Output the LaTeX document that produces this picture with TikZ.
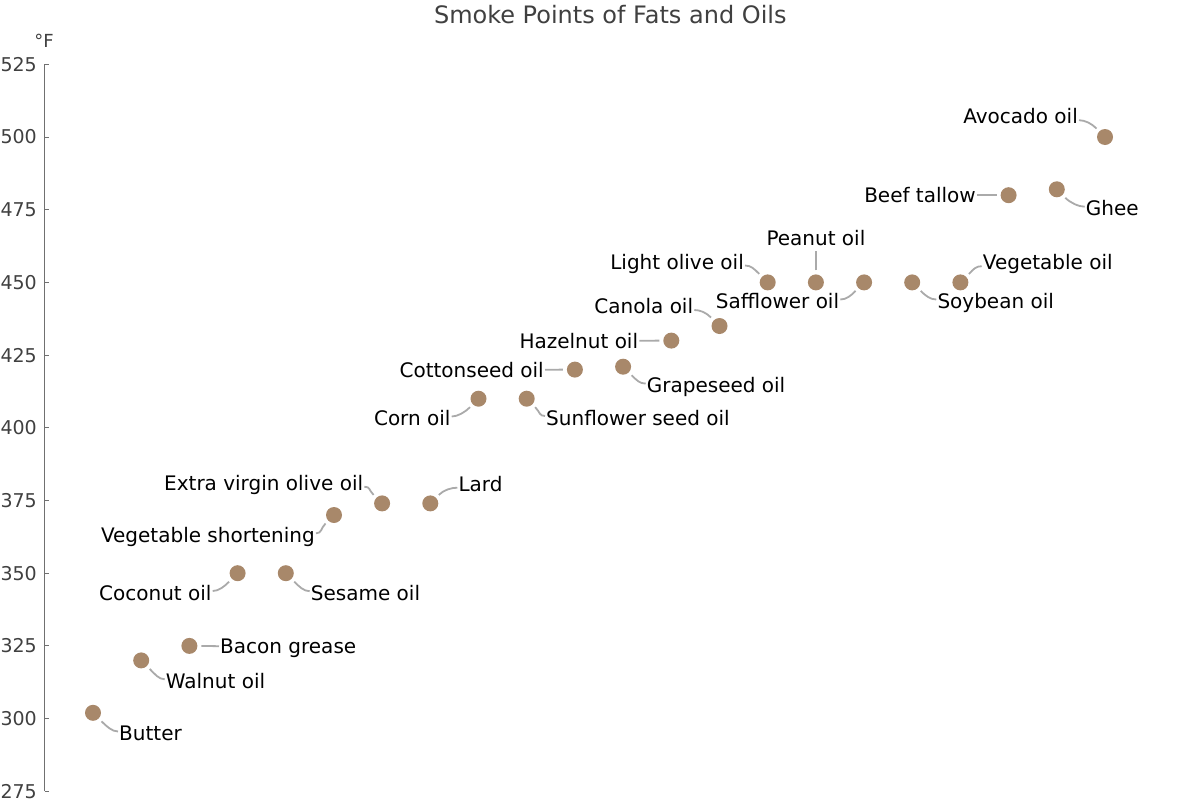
\documentclass[tikz,border=0pt]{standalone}
\usepackage{fontspec}
\setmainfont{DejaVu Sans}
\definecolor{dotc}{RGB}{168,136,106}
\definecolor{leadc}{RGB}{170,170,170}
\definecolor{axc}{RGB}{64,64,64}
\definecolor{axline}{RGB}{112,112,112}
\begin{document}
\begin{tikzpicture}[x=1pt,y=-1pt,
  dot/.style={circle,fill=dotc,minimum size=16pt,inner sep=0pt,outer sep=4pt},
  lab/.style={font=\fontsize{20}{24}\selectfont,text=black,inner sep=1pt,text height=14.5pt,text depth=0pt},
  labup/.style={lab,text depth=7pt},
  labdn/.style={lab,text height=18pt},
  leader/.style={draw=leadc,line width=1.8pt},
  ticklab/.style={font=\fontsize{19}{23}\selectfont,text=axc,anchor=east,inner sep=0pt,text height=13.8pt,text depth=0pt},
  axisline/.style={draw=axline,line width=1pt},
]
\useasboundingbox (0,0) rectangle (1200,806);
% title and unit
\node[font=\fontsize{24}{28}\selectfont,text=axc,inner sep=0pt,text height=17.5pt,text depth=0pt] (title) at (610.3,14.7) {Smoke Points of Fats and Oils};
\node[font=\fontsize{18}{22}\selectfont,text=axc,inner sep=0pt,text height=13.1pt,text depth=0pt] (unit) at (44,40.5) {°F};
% axis
\draw[axisline] (44.5,64.3) -- (44.5,791.3);
\foreach \v in {275,300,...,525} {
  \pgfmathsetmacro\yy{64.3+(525-\v)*2.908}
  \draw[axisline] (44.5,\yy) -- (49,\yy);
  \node[ticklab] (t\v) at (37,\yy) {\v};
}
% dots
\node[dot] (d1)  at (93.0,712.8) {};
\node[dot] (d2)  at (141.2,660.4) {};
\node[dot] (d3)  at (189.4,645.9) {};
\node[dot] (d4)  at (237.6,573.2) {};
\node[dot] (d5)  at (285.8,573.2) {};
\node[dot] (d6)  at (334.0,515.0) {};
\node[dot] (d7)  at (382.1,503.4) {};
\node[dot] (d8)  at (430.3,503.4) {};
\node[dot] (d9)  at (478.5,398.7) {};
\node[dot] (d10) at (526.7,398.7) {};
\node[dot] (d11) at (574.9,369.6) {};
\node[dot] (d12) at (623.1,366.7) {};
\node[dot] (d13) at (671.3,340.6) {};
\node[dot] (d14) at (719.5,326.0) {};
\node[dot] (d15) at (767.7,282.4) {};
\node[dot] (d16) at (815.9,282.4) {};
\node[dot] (d17) at (864.1,282.4) {};
\node[dot] (d18) at (912.2,282.4) {};
\node[dot] (d19) at (960.4,282.4) {};
\node[dot] (d20) at (1008.6,195.2) {};
\node[dot] (d21) at (1056.8,189.3) {};
\node[dot] (d22) at (1105.0,137.0) {};
% labels
\node[labdn,anchor=west] (l1)  at (118,731.5) {Butter};
\node[labdn,anchor=west] (l2)  at (164.7,679.3) {Walnut oil};
\node[lab,anchor=west] (l3)  at (219,646.2) {Bacon grease};
\node[labdn,anchor=east] (l4)  at (212.7,591) {Coconut oil};
\node[labdn,anchor=west] (l5)  at (309.7,591.2) {Sesame oil};
\node[labdn,anchor=east] (l6)  at (316,533.3) {Vegetable shortening};
\node[labup,anchor=east] (l7)  at (364.3,486.7) {Extra virgin olive oil};
\node[labup,anchor=west] (l8)  at (457.3,487.7) {Lard};
\node[labdn,anchor=east] (l9)  at (451.7,416.5) {Corn oil};
\node[labdn,anchor=west] (l10) at (545,416) {Sunflower seed oil};
\node[lab,anchor=east] (l11) at (545,369.8) {Cottonseed oil};
\node[labdn,anchor=west] (l12) at (645.7,383.6) {Grapeseed oil};
\node[lab,anchor=east] (l13) at (639.3,340.8) {Hazelnut oil};
\node[labup,anchor=east] (l14) at (694.3,310) {Canola oil};
\node[labup,anchor=east] (l15) at (745,265.5) {Light olive oil};
\node[lab,anchor=south,inner ysep=5pt] (l16) at (815.9,251) {Peanut oil};
\node[labdn,anchor=east] (l17) at (840.3,299.5) {Safflower oil};
\node[labdn,anchor=west] (l18) at (936.3,299.5) {Soybean oil};
\node[labup,anchor=west] (l19) at (981.7,266.2) {Vegetable oil};
\node[lab,anchor=east] (l20) at (977,195.2) {Beef tallow};
\node[labdn,anchor=west] (l21) at (1084.7,206.7) {Ghee};
\node[labup,anchor=east] (l22) at (1079,120.2) {Avocado oil};
% leaders
\draw[leader] (d1.-45)  .. controls +(5,5) and +(-6,0) .. (l1.west);
\draw[leader] (d2.-45)  .. controls +(5,5) and +(-6,0) .. (l2.west);
\draw[leader] (d3.east) -- (l3.west);
\draw[leader] (d4.-135) .. controls +(-5,5) and +(6,0) .. (l4.east);
\draw[leader] (d5.-45)  .. controls +(5,5) and +(-6,0) .. (l5.west);
\draw[leader] (d6.-135) .. controls +(-5,5) and +(6,0) .. (l6.east);
\draw[leader] (d7.135)  .. controls +(-5,-5) and +(6,0) .. (l7.east);
\draw[leader] (d8.45)   .. controls +(5,-5) and +(-6,0) .. (l8.west);
\draw[leader] (d9.-135) .. controls +(-5,5) and +(6,0) .. (l9.east);
\draw[leader] (d10.-45) .. controls +(5,5) and +(-6,0) .. (l10.west);
\draw[leader] (d11.west) -- (l11.east);
\draw[leader] (d12.-45) .. controls +(5,5) and +(-6,0) .. (l12.west);
\draw[leader] (d13.west) -- (l13.east);
\draw[leader] (d14.135) .. controls +(-5,-5) and +(6,0) .. (l14.east);
\draw[leader] (d15.135) .. controls +(-5,-5) and +(6,0) .. (l15.east);
\draw[leader] (d16.north) -- (l16.south);
\draw[leader] (d17.-135) .. controls +(-5,5) and +(6,0) .. (l17.east);
\draw[leader] (d18.-45) .. controls +(5,5) and +(-6,0) .. (l18.west);
\draw[leader] (d19.45)  .. controls +(5,-5) and +(-6,0) .. (l19.west);
\draw[leader] (d20.west) -- (l20.east);
\draw[leader] (d21.-45) .. controls +(5,5) and +(-6,0) .. (l21.west);
\draw[leader] (d22.135) .. controls +(-5,-5) and +(6,0) .. (l22.east);
\end{tikzpicture}
\end{document}
